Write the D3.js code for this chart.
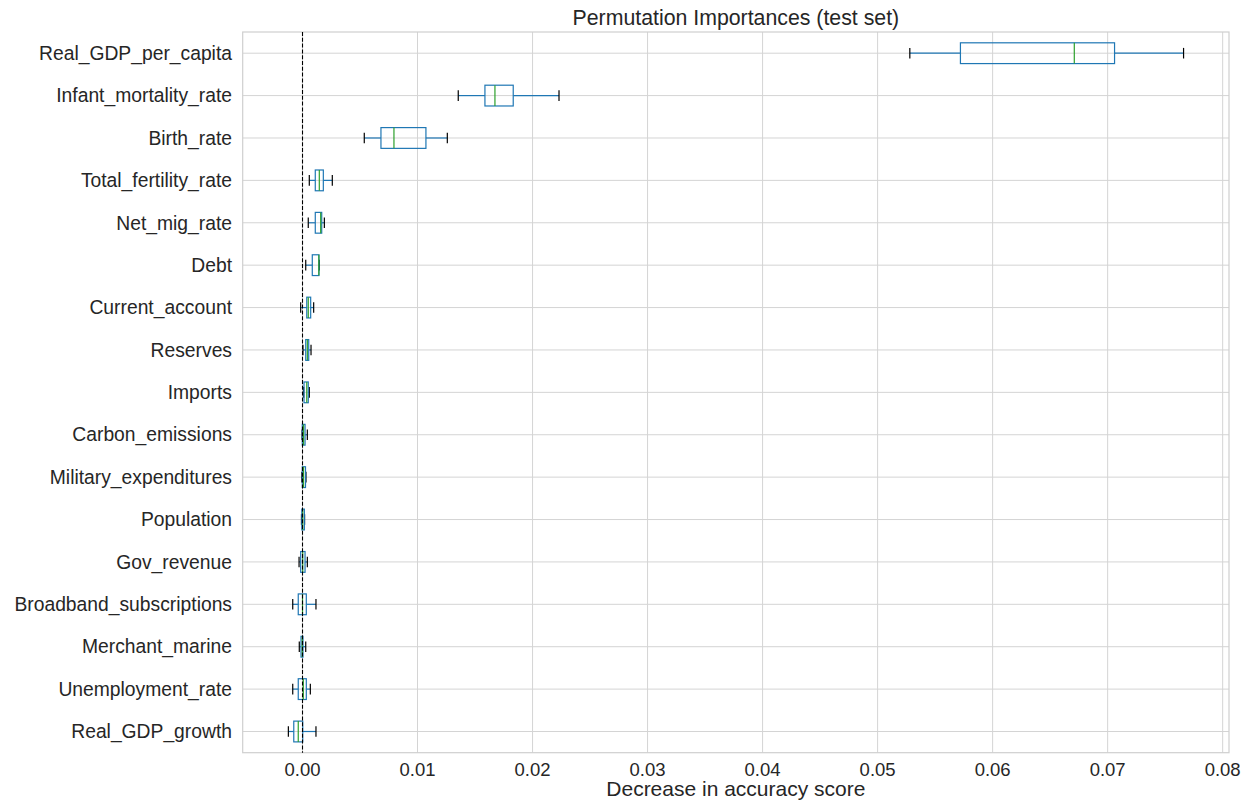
<!DOCTYPE html>
<html>
<head>
<meta charset="utf-8">
<script src="https://cdn.jsdelivr.net/npm/d3@7"></script>
<style>
    body { margin: 0; background: #fff; }
    text { font-family: "Liberation Sans", Arial, sans-serif; fill: #262626; }
</style>
</head>
<body>
<script>
//feature names, top to bottom
var features = ["Real_GDP_per_capita", "Infant_mortality_rate", "Birth_rate", "Total_fertility_rate",
    "Net_mig_rate", "Debt", "Current_account", "Reserves", "Imports", "Carbon_emissions",
    "Military_expenditures", "Population", "Gov_revenue", "Broadband_subscriptions",
    "Merchant_marine", "Unemployment_rate", "Real_GDP_growth"];

//box stats
var whiskerLow = [0.0528, 0.01354, 0.00537, 0.00059, 0.0005, 0.00028, -0.00016, 0.00004, 0.0001,
    -0.00004, -0.00006, -0.00009, -0.0003, -0.00085, -0.00028, -0.00085, -0.00123];
var q1 = [0.0572, 0.01586, 0.00682, 0.00111, 0.00111, 0.00085, 0.00037, 0.00028, 0.00013,
    -0.00002, -0.00002, -0.00006, -0.00016, -0.00037, -0.00013, -0.00037, -0.00076];
var medians = [0.0671, 0.01673, 0.00795, 0.00146, 0.00158, 0.00142, 0.0005, 0.00042, 0.00037,
    0.00009, 0.00009, 0.00002, 0.00002, 0.0, -0.00002, 0.00007, -0.00037];
var q3 = [0.0706, 0.01832, 0.01073, 0.00181, 0.00167, 0.00143, 0.00071, 0.00054, 0.0005,
    0.00022, 0.00026, 0.00016, 0.00022, 0.00033, 0.00004, 0.00033, 0.00002];
var whiskerHigh = [0.0766, 0.0223, 0.01259, 0.00259, 0.0019, 0.00146, 0.00097, 0.00074, 0.00059,
    0.00042, 0.0003, 0.00018, 0.00042, 0.00117, 0.00028, 0.00068, 0.00117];

var xTicks = [0, 0.01, 0.02, 0.03, 0.04, 0.05, 0.06, 0.07, 0.08];

window.onload = drawChart();

function drawChart(){
    var width = 1250,
        height = 800;
    var left = 242.7, right = 1229, top = 32, bottom = 752.7;

    var svg = d3.select("body")
        .append("svg")
        .attr("width", width)
        .attr("height", height);

    var x = d3.scaleLinear()
        .domain([-0.0052, 0.08055])
        .range([left, right]);

    var y = d3.scaleBand()
        .domain(features)
        .range([top, bottom]);

    var rows = features.map(function(f, i){
        return {name: f, lo: whiskerLow[i], q1: q1[i], med: medians[i], q3: q3[i], hi: whiskerHigh[i]};
    });

    //grid
    var grid = svg.append("g");
    grid.selectAll(".vgrid")
        .data(xTicks)
        .enter()
        .append("line")
        .attr("x1", function(d){ return x(d); })
        .attr("x2", function(d){ return x(d); })
        .attr("y1", top)
        .attr("y2", bottom)
        .attr("stroke", "#d4d4d4")
        .attr("stroke-width", 1);
    grid.selectAll(".hgrid")
        .data(features)
        .enter()
        .append("line")
        .attr("x1", left)
        .attr("x2", right)
        .attr("y1", function(d){ return y(d) + y.bandwidth() / 2; })
        .attr("y2", function(d){ return y(d) + y.bandwidth() / 2; })
        .attr("stroke", "#d4d4d4")
        .attr("stroke-width", 1);

    //frame
    svg.append("rect")
        .attr("x", left)
        .attr("y", top)
        .attr("width", right - left)
        .attr("height", bottom - top)
        .attr("fill", "none")
        .attr("stroke", "#cfcfcf")
        .attr("stroke-width", 1.2);

    //boxes
    var bh = y.bandwidth() * 0.49;
    var cap = y.bandwidth() * 0.25;
    var box = svg.selectAll(".box")
        .data(rows)
        .enter()
        .append("g")
        .attr("class", "box")
        .attr("stroke-width", 1.2)
        .attr("transform", function(d){ return "translate(0," + (y(d.name) + y.bandwidth() / 2) + ")"; });

    box.append("line")
        .attr("x1", function(d){ return x(d.lo); })
        .attr("x2", function(d){ return x(d.q1); })
        .attr("stroke", "#1f77b4");
    box.append("line")
        .attr("x1", function(d){ return x(d.q3); })
        .attr("x2", function(d){ return x(d.hi); })
        .attr("stroke", "#1f77b4");
    box.append("line")
        .attr("x1", function(d){ return x(d.lo); })
        .attr("x2", function(d){ return x(d.lo); })
        .attr("y1", -cap / 2)
        .attr("y2", cap / 2)
        .attr("stroke", "#000");
    box.append("line")
        .attr("x1", function(d){ return x(d.hi); })
        .attr("x2", function(d){ return x(d.hi); })
        .attr("y1", -cap / 2)
        .attr("y2", cap / 2)
        .attr("stroke", "#000");
    box.append("rect")
        .attr("x", function(d){ return x(d.q1); })
        .attr("y", -bh / 2)
        .attr("width", function(d){ return Math.max(0.5, x(d.q3) - x(d.q1)); })
        .attr("height", bh)
        .attr("fill", "none")
        .attr("stroke", "#1f77b4");
    box.append("line")
        .attr("x1", function(d){ return x(d.med); })
        .attr("x2", function(d){ return x(d.med); })
        .attr("y1", -bh / 2)
        .attr("y2", bh / 2)
        .attr("stroke", "#2ca02c");

    //zero line
    svg.append("line")
        .attr("x1", x(0))
        .attr("x2", x(0))
        .attr("y1", top)
        .attr("y2", bottom)
        .attr("stroke", "#000")
        .attr("stroke-width", 1.1)
        .attr("stroke-dasharray", "4,1.8");

    //y labels
    svg.selectAll(".ylab")
        .data(features)
        .enter()
        .append("text")
        .attr("x", 232)
        .attr("y", function(d){ return y(d) + y.bandwidth() / 2; })
        .attr("dy", "0.35em")
        .attr("text-anchor", "end")
        .style("font-size", "19.3px")
        .text(function(d){ return d; });

    //x labels
    svg.selectAll(".xlab")
        .data(xTicks)
        .enter()
        .append("text")
        .attr("x", function(d){ return x(d); })
        .attr("y", 775.5)
        .attr("text-anchor", "middle")
        .style("font-size", "18.5px")
        .text(function(d){ return d3.format(".2f")(d); });

    svg.append("text")
        .attr("x", (left + right) / 2)
        .attr("y", 796)
        .attr("text-anchor", "middle")
        .style("font-size", "21px")
        .text("Decrease in accuracy score");

    svg.append("text")
        .attr("x", (left + right) / 2)
        .attr("y", 25)
        .attr("text-anchor", "middle")
        .style("font-size", "21.3px")
        .text("Permutation Importances (test set)");
};
</script>
</body>
</html>
